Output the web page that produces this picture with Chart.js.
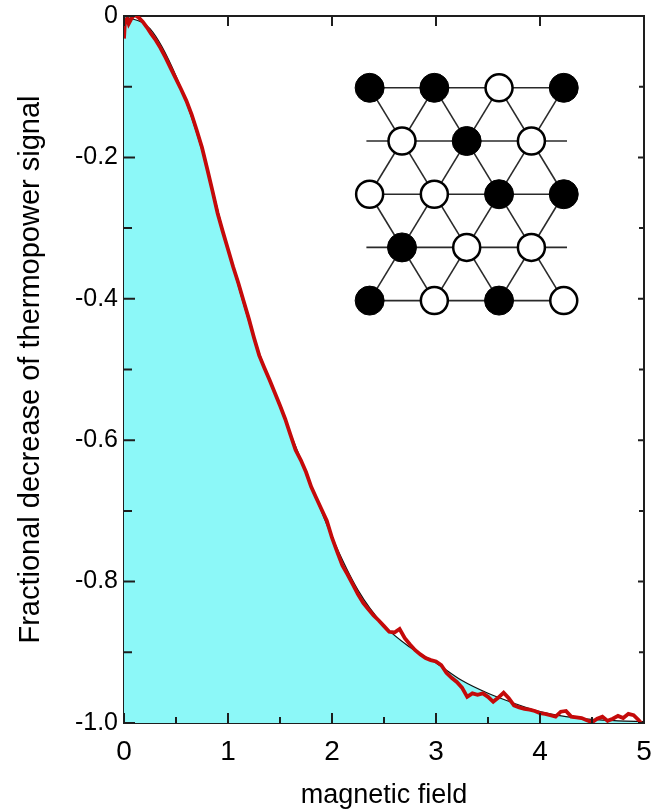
<!DOCTYPE html>
<html>
<head>
<meta charset="utf-8">
<script src="https://cdn.jsdelivr.net/npm/chart.js@4.4.1/dist/chart.umd.min.js"></script>
<style>
  html, body { margin: 0; padding: 0; background: #fff; }
  #contenedor { width: 660px; height: 809px; position: relative; }
</style>
</head>
<body>
<div id="contenedor"><canvas id="grafica"></canvas></div>
<script>
// Curva medida (roja)
const campoMedido = [0.00, 0.01, 0.03, 0.045, 0.07, 0.10, 0.14, 0.18, 0.22, 0.26, 0.30, 0.35, 0.40, 0.45, 0.50,
  0.55, 0.60, 0.65, 0.70, 0.75, 0.80, 0.85, 0.90, 0.95, 1.00, 1.05, 1.10, 1.15, 1.20, 1.25, 1.30, 1.35, 1.40,
  1.45, 1.50, 1.55, 1.60, 1.65, 1.70, 1.75, 1.80, 1.85, 1.90, 1.95, 2.00, 2.05, 2.10, 2.15, 2.20, 2.25, 2.30,
  2.35, 2.40, 2.45, 2.50, 2.55, 2.60, 2.65, 2.70, 2.75, 2.80, 2.85, 2.90, 2.95, 3.00, 3.05, 3.10, 3.15, 3.20,
  3.25, 3.30, 3.35, 3.40, 3.45, 3.50, 3.55, 3.60, 3.65, 3.70, 3.75, 3.80, 3.85, 3.90, 3.95, 4.00, 4.05, 4.10,
  4.15, 4.20, 4.25, 4.30, 4.35, 4.40, 4.45, 4.50, 4.55, 4.60, 4.65, 4.70, 4.75, 4.80, 4.85, 4.90, 4.95, 5.00];
const senalMedida = [-0.032, -0.006, -0.004, -0.011, -0.004, 0.002, -0.002, -0.008, -0.016, -0.025, -0.033, -0.045,
  -0.059, -0.074, -0.089, -0.104, -0.120, -0.139, -0.162, -0.186, -0.216, -0.247, -0.279, -0.305, -0.330, -0.355,
  -0.378, -0.403, -0.428, -0.455, -0.480, -0.498, -0.515, -0.533, -0.551, -0.570, -0.592, -0.614, -0.628, -0.645,
  -0.666, -0.682, -0.698, -0.714, -0.738, -0.758, -0.777, -0.790, -0.804, -0.818, -0.830, -0.839, -0.848, -0.855,
  -0.863, -0.871, -0.872, -0.867, -0.880, -0.889, -0.897, -0.903, -0.908, -0.911, -0.913, -0.918, -0.929, -0.936,
  -0.942, -0.950, -0.963, -0.958, -0.960, -0.958, -0.963, -0.970, -0.964, -0.957, -0.965, -0.975, -0.978, -0.980,
  -0.981, -0.983, -0.986, -0.987, -0.989, -0.991, -0.984, -0.983, -0.991, -0.992, -0.993, -0.996, -0.999, -0.994,
  -0.991, -0.997, -0.994, -0.990, -0.993, -0.987, -0.989, -0.996, -1.006];

// Curva teórica (área cian)
const campoTeoria = [0, 0.25, 0.5, 0.75, 1.0, 1.25, 1.5, 1.75, 2.0, 2.25, 2.5, 2.75, 3.0, 3.25, 3.5, 3.75, 4.0, 4.25, 4.5, 4.75, 5.0];
const senalTeoria = [0, -0.018, -0.085, -0.19, -0.33, -0.455, -0.553, -0.645, -0.737, -0.812, -0.862, -0.893, -0.915,
  -0.940, -0.958, -0.972, -0.984, -0.991, -0.995, -0.997, -0.998];

// Marcas de los ejes
const xTicks = [0, 1, 2, 3, 4, 5];
const xTicksMenores = [0.5, 1.5, 2.5, 3.5, 4.5];
const yTicks = [0, -0.2, -0.4, -0.6, -0.8, -1.0];
const yEtiquetas = ['0', '-0.2', '-0.4', '-0.6', '-0.8', '-1.0'];
const yTicksMenores = [-0.1, -0.3, -0.5, -0.7, -0.9];

// Red triangular del recuadro (columna u, fila r)
const nodosLlenos = [[0, 0], [1, 0], [3, 0], [1.5, 1], [2, 2], [3, 2], [0.5, 3], [0, 4], [2, 4]];
const nodosVacios = [[2, 0], [0.5, 1], [2.5, 1], [0, 2], [1, 2], [1.5, 3], [2.5, 3], [1, 4], [3, 4]];
const enlaces = [
  [[0, 0], [3, 0]], [[-0.05, 1], [3.05, 1]], [[0, 2], [3, 2]], [[-0.05, 3], [3.05, 3]], [[0, 4], [3, 4]],
  [[0, 0], [2, 4]], [[1, 0], [3, 4]], [[2, 0], [3, 2]], [[0, 2], [1, 4]],
  [[3, 0], [1, 4]], [[2, 0], [0, 4]], [[1, 0], [0, 2]], [[3, 2], [2, 4]]
];

const fuente = '"Liberation Sans", Arial, sans-serif';

// Marcas hacia adentro, como en la figura original
const marcasInternas = {
  id: 'marcasInternas',
  afterDraw(chart) {
    const { ctx, chartArea: a, scales } = chart;
    const x = scales.x, y = scales.y;
    ctx.save();
    ctx.strokeStyle = '#1e1e1e';
    ctx.lineWidth = 2;
    ctx.beginPath();
    xTicks.forEach(v => {
      const px = x.getPixelForValue(v);
      ctx.moveTo(px, a.bottom); ctx.lineTo(px, a.bottom - 10);
      ctx.moveTo(px, a.top); ctx.lineTo(px, a.top + 10);
    });
    xTicksMenores.forEach(v => {
      const px = x.getPixelForValue(v);
      ctx.moveTo(px, a.bottom); ctx.lineTo(px, a.bottom - 6);
    });
    yTicks.forEach(v => {
      const py = y.getPixelForValue(v);
      ctx.moveTo(a.left, py); ctx.lineTo(a.left + 11, py);
      ctx.moveTo(a.right, py); ctx.lineTo(a.right - 6, py);
    });
    yTicksMenores.forEach(v => {
      const py = y.getPixelForValue(v);
      ctx.moveTo(a.left, py); ctx.lineTo(a.left + 8, py);
      ctx.moveTo(a.right, py); ctx.lineTo(a.right - 5, py);
    });
    ctx.stroke();
    ctx.restore();
  }
};

const datosEnlaces = enlaces.map(e => ({
  type: 'line',
  data: e.map(p => ({ x: p[0], y: p[1] })),
  xAxisID: 'xL', yAxisID: 'yL',
  borderColor: '#2a2a2a', borderWidth: 1.6,
  pointRadius: 0, fill: false, order: 3
}));

new Chart(document.getElementById('grafica').getContext('2d'), {
  type: 'line',
  data: {
    datasets: [
      {
        label: 'Medida',
        data: campoMedido.map((c, i) => ({ x: c, y: senalMedida[i] })),
        borderColor: '#c40a0a', borderWidth: 3.8,
        pointRadius: 0, fill: false, tension: 0, order: 1
      },
      {
        label: 'Teoría',
        data: campoTeoria.map((c, i) => ({ x: c, y: senalTeoria[i] })),
        borderColor: '#111', borderWidth: 1.2,
        backgroundColor: '#8cf8f8',
        pointRadius: 0, fill: 'start', cubicInterpolationMode: 'monotone', order: 4
      },
      {
        type: 'scatter',
        data: nodosLlenos.map(p => ({ x: p[0], y: p[1] })),
        xAxisID: 'xL', yAxisID: 'yL',
        pointRadius: 14.5, pointBackgroundColor: '#000', pointBorderColor: '#000', pointBorderWidth: 1,
        order: 0
      },
      {
        type: 'scatter',
        data: nodosVacios.map(p => ({ x: p[0], y: p[1] })),
        xAxisID: 'xL', yAxisID: 'yL',
        pointRadius: 13.5, pointBackgroundColor: '#fff', pointBorderColor: '#000', pointBorderWidth: 2.5,
        order: 0
      },
      ...datosEnlaces
    ]
  },
  options: {
    responsive: true,
    maintainAspectRatio: false,
    animation: false,
    events: [],
    layout: { padding: { top: 12, right: 8, left: 0, bottom: 0 } },
    plugins: { legend: { display: false }, tooltip: { enabled: false } },
    scales: {
      x: {
        type: 'linear', position: 'bottom', min: 0, max: 5, z: 1,
        afterBuildTicks: s => { s.ticks = xTicks.map(v => ({ value: v })); },
        afterFit: s => { s.height = 86; s.paddingLeft = 0; s.paddingRight = 0; },
        grid: { display: false, drawTicks: false },
        border: { display: true, color: '#1e1e1e', width: 2 },
        ticks: { padding: 12, color: '#000', font: { family: fuente, size: 28 }, maxRotation: 0 },
        title: { display: true, text: 'magnetic field', color: '#000',
                 font: { family: fuente, size: 27, lineHeight: 1 }, padding: { top: 0, bottom: 0 } }
      },
      y: {
        type: 'linear', position: 'left', min: -1, max: 0, z: 1,
        afterBuildTicks: s => { s.ticks = yTicks.slice().reverse().map(v => ({ value: v })); },
        afterFit: s => { s.width = 124; s.paddingTop = 0; s.paddingBottom = 0; },
        grid: { display: false, drawTicks: false },
        border: { display: true, color: '#1e1e1e', width: 2 },
        ticks: {
          padding: 6, color: '#000', font: { family: fuente, size: 25 },
          callback: v => yEtiquetas[yTicks.findIndex(t => Math.abs(t - v) < 1e-6)]
        },
        title: { display: true, text: 'Fractional decrease of thermopower signal', color: '#000',
                 font: { family: fuente, size: 29, lineHeight: 1 }, padding: { top: 16, bottom: 0 } }
      },
      xTop: {
        type: 'linear', position: 'top', min: 0, max: 5, z: 1,
        afterFit: s => { s.height = 0; s.paddingLeft = 0; s.paddingRight = 0; },
        grid: { display: false, drawTicks: false },
        border: { display: true, color: '#1e1e1e', width: 2 },
        ticks: { display: false }
      },
      yRight: {
        type: 'linear', position: 'right', min: -1, max: 0, z: 1,
        afterFit: s => { s.width = 0; s.paddingTop = 0; s.paddingBottom = 0; },
        grid: { display: false, drawTicks: false },
        border: { display: true, color: '#1e1e1e', width: 2 },
        ticks: { display: false }
      },
      xL: { type: 'linear', display: false, min: -3.796, max: 4.24 },
      yL: { type: 'linear', display: false, reverse: true, min: -1.35, max: 11.94 }
    }
  },
  plugins: [marcasInternas]
});
</script>
</body>
</html>
